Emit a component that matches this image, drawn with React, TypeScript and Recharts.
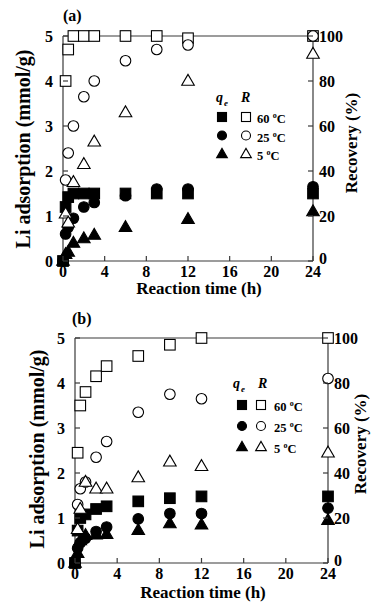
import React from 'react';
import { ScatterChart, Scatter, XAxis, YAxis, Legend } from 'recharts';

const FONT = '"Liberation Serif", "Times New Roman", Times, serif';
const AX = '#3a3a3a';

// ---- shared axes / categories ----
const timeH = [0, 0.25, 0.5, 1, 2, 3, 6, 9, 12, 24];
const xTicks = [0, 4, 8, 12, 16, 20, 24];
const qTicks = [0, 1, 2, 3, 4, 5];
const rTicks = [0, 20, 40, 60, 80, 100];
const tempLabels = ['60', '25', '5'];

// ---- panel (a) : qe (mmol/g) and R (%) ----
const qA60 = [0, 1.2, 1.42, 1.5, 1.5, 1.5, 1.5, 1.5, 1.5, 1.5];
const qA25 = [0, 0.6, 0.75, 0.95, 1.2, 1.3, 1.45, 1.6, 1.6, 1.65];
const qA5 = [0, 0.15, 0.2, 0.4, 0.5, 0.58, 0.75, null, 0.93, 1.1];
const rA60 = [null, 80, 94, 100, 100, 100, 100, 100, 99, 100];
const rA25 = [null, 36, 48, 60, 73, 80, 89, 94, 96, 100];
const rA5 = [null, 21, 17, 35, 43, 53, 66, null, 80, 92];

// ---- panel (b) ----
const qB60 = [0, 0.72, 1.0, 1.08, 1.2, 1.26, 1.37, 1.44, 1.48, 1.48];
const qB25 = [0, 0.33, 0.45, 0.55, 0.7, 0.8, 0.98, 1.1, 1.1, 1.22];
const qB5 = [0, 0.22, 0.5, 0.62, 0.63, 0.64, 0.73, 0.88, 0.85, 0.95];
const rB60 = [null, 49, 70, 76, 83, 87.5, 92, 97, 100, 100];
const rB25 = [null, 26, 33, 36, 47, 54, 67, 75, 73, 82];
const rB5 = [null, 15, 24, 36, 33, 33, 38, 45, 43, 49];

type Pt = { t: number; v: number };
const pts = (vals: (number | null)[]): Pt[] =>
  timeH
    .map((t, i) => ({ t, v: vals[i] as number }))
    .filter((p) => p.v !== null && p.v !== undefined);

type Kind = 'square' | 'circle' | 'triangle';

function Mark({ kind, filled, cx, cy, s = 1 }: { kind: Kind; filled: boolean; cx: number; cy: number; s?: number }) {
  const fill = filled ? '#000' : '#fff';
  const sw = 1.1;
  if (kind === 'square') {
    const h = 5.3 * s;
    return <rect x={cx - h} y={cy - h} width={2 * h} height={2 * h} fill={fill} stroke="#000" strokeWidth={sw} />;
  }
  if (kind === 'circle') {
    return <circle cx={cx} cy={cy} r={5.3 * s} fill={fill} stroke="#000" strokeWidth={sw} />;
  }
  const w = 6.3 * s;
  return (
    <polygon
      points={`${cx},${cy - 6.6 * s} ${cx - w},${cy + 4.3 * s} ${cx + w},${cy + 4.3 * s}`}
      fill={fill}
      stroke="#000"
      strokeWidth={sw}
      strokeLinejoin="miter"
    />
  );
}

const st = (size: number, italic = false): React.CSSProperties => ({
  fontFamily: FONT,
  fontWeight: 700,
  fontSize: size,
  fontStyle: italic ? 'italic' : 'normal',
  fill: '#000',
});

const BottomTick = (p: any) => (
  <g>
    <line x1={p.x} x2={p.x} y1={p.y} y2={p.y - 5} stroke={AX} strokeWidth={1.2} />
    <text x={p.x} y={p.y + 16} textAnchor="middle" style={st(16)}>
      {p.payload.value}
    </text>
  </g>
);
const TopTick = (p: any) => (
  <line x1={p.x} x2={p.x} y1={p.y} y2={p.y + 5} stroke={AX} strokeWidth={1.2} />
);
const LeftTick = (p: any) => (
  <g>
    <line x1={p.x} x2={p.x + 5} y1={p.y} y2={p.y} stroke={AX} strokeWidth={1.2} />
    <text x={p.x - 10} y={p.y} dy="0.36em" textAnchor="end" style={st(16)}>
      {p.payload.value}
    </text>
  </g>
);
const RightTick = (p: any) => (
  <g>
    <line x1={p.x} x2={p.x - 5} y1={p.y} y2={p.y} stroke={AX} strokeWidth={1.2} />
    <text x={p.x + 6} y={p.payload.value === 0 ? p.y - 3 : p.y} dy="0.36em" textAnchor="start" style={st(16)}>
      {p.payload.value}
    </text>
  </g>
);

type Cfg = {
  tag: string;
  top: number;
  height: number;
  leftW: number;
  rightW: number;
  q: (number | null)[][];
  r: (number | null)[][];
  tagPos: [number, number];
  leftTitle: [number, number];
  rightTitle: [number, number];
  xTitle: [number, number];
  lg: { hx: number; rx: number; hy: number; fx: number; ox: number; tx: number; rows: number[] };
};

function VText({ x, y, size, children }: { x: number; y: number; size: number; children: React.ReactNode }) {
  return (
    <text x={x} y={y} transform={`rotate(-90 ${x} ${y})`} textAnchor="middle" dy="0.35em" style={st(size)}>
      {children}
    </text>
  );
}

const kinds: Kind[] = ['square', 'circle', 'triangle'];

function LegendBox({ lg }: { lg: Cfg['lg'] }) {
  return (
    <svg width={371} height={300} style={{ display: 'block' }}>
      <text x={lg.hx} y={lg.hy} style={st(14, true)}>
        q
        <tspan dx={1} dy={4} style={st(9, true)}>e</tspan>
      </text>
      <text x={lg.rx} y={lg.hy} style={st(14, true)}>
        R
      </text>
      {tempLabels.map((lab, i) => (
        <g key={lab}>
          <Mark kind={kinds[i]} filled cx={lg.fx} cy={lg.rows[i]} s={0.85} />
          <Mark kind={kinds[i]} filled={false} cx={lg.ox} cy={lg.rows[i]} s={0.85} />
          <text x={lg.tx} y={lg.rows[i] + 6} style={st(12.5)}>
            {lab + ' '}
            <tspan dy={-5} style={st(8)}>o</tspan>
            <tspan dy={5}>C</tspan>
          </text>
        </g>
      ))}
    </svg>
  );
}

function Panel({ cfg }: { cfg: Cfg }) {
  const axisLine = { stroke: AX, strokeWidth: 1.2 };
  const filledOrder = [1, 2, 0]; // circles, triangles, squares
  const openOrder = [0, 1, 2]; // squares, circles, triangles
  return (
    <div style={{ position: 'absolute', left: 0, top: cfg.top }}>
      <ScatterChart width={371} height={cfg.height} margin={{ top: 35, right: 0, bottom: 0, left: 0 }}>
        <XAxis
          xAxisId="top"
          orientation="top"
          type="number"
          dataKey="t"
          domain={[0, 24]}
          ticks={xTicks}
          interval={0}
          height={1}
          tickSize={0}
          tickMargin={0}
          tickLine={false}
          axisLine={axisLine}
          tick={(p: any) => <TopTick {...p} />}
          label={{
            value: cfg.tag,
            content: () => (
              <text x={cfg.tagPos[0]} y={cfg.tagPos[1]} style={st(16)}>
                {cfg.tag}
              </text>
            ),
          }}
        />
        <XAxis
          xAxisId="bottom"
          orientation="bottom"
          type="number"
          dataKey="t"
          domain={[0, 24]}
          ticks={xTicks}
          interval={0}
          height={cfg.height - 35 - 1 - 225}
          tickSize={0}
          tickMargin={0}
          tickLine={false}
          axisLine={axisLine}
          tick={(p: any) => <BottomTick {...p} />}
          label={{
            value: 'Reaction time (h)',
            content: () => (
              <text x={cfg.xTitle[0]} y={cfg.xTitle[1]} textAnchor="middle" dy="0.35em" style={st(17)}>
                Reaction time (h)
              </text>
            ),
          }}
        />
        <YAxis
          yAxisId="q"
          orientation="left"
          type="number"
          dataKey="v"
          domain={[0, 5]}
          ticks={qTicks}
          interval={0}
          width={cfg.leftW}
          tickSize={0}
          tickMargin={0}
          tickLine={false}
          axisLine={axisLine}
          tick={(p: any) => <LeftTick {...p} />}
          label={{
            value: 'Li adsorption (mmol/g)',
            content: () => (
              <VText x={cfg.leftTitle[0]} y={cfg.leftTitle[1]} size={20}>
                Li adsorption (mmol/g)
              </VText>
            ),
          }}
        />
        <YAxis
          yAxisId="r"
          orientation="right"
          type="number"
          dataKey="v"
          domain={[0, 100]}
          ticks={rTicks}
          interval={0}
          width={cfg.rightW}
          tickSize={0}
          tickMargin={0}
          tickLine={false}
          axisLine={axisLine}
          tick={(p: any) => <RightTick {...p} />}
          label={{
            value: 'Recovery (%)',
            content: () => (
              <VText x={cfg.rightTitle[0]} y={cfg.rightTitle[1]} size={17}>
                Recovery (%)
              </VText>
            ),
          }}
        />
        <Legend
          layout="horizontal"
          verticalAlign="middle"
          align="center"
          wrapperStyle={{ left: 0, top: 0, width: 371, height: 300, margin: 0, pointerEvents: 'none' }}
          content={() => <LegendBox lg={cfg.lg} />}
        />
        {filledOrder.map((i) => (
          <Scatter
            key={'q' + i}
            name={`qe ${tempLabels[i]} °C`}
            data={pts(cfg.q[i])}
            xAxisId="bottom"
            yAxisId="q"
            dataKey="v"
            isAnimationActive={false}
            shape={(p: any) => <Mark kind={kinds[i]} filled cx={p.cx} cy={p.cy} />}
          />
        ))}
        {openOrder.map((i) => (
          <Scatter
            key={'r' + i}
            name={`R ${tempLabels[i]} °C`}
            data={pts(cfg.r[i])}
            xAxisId="bottom"
            yAxisId="r"
            dataKey="v"
            isAnimationActive={false}
            shape={(p: any) => <Mark kind={kinds[i]} filled={false} cx={p.cx} cy={p.cy} />}
          />
        ))}
      </ScatterChart>
    </div>
  );
}

const cfgA: Cfg = {
  tag: '(a)',
  top: 0,
  height: 302,
  leftW: 63,
  rightW: 58,
  q: [qA60, qA25, qA5],
  r: [rA60, rA25, rA5],
  tagPos: [63, 21],
  leftTitle: [23, 149],
  rightTitle: [351, 143],
  xTitle: [199, 288],
  lg: { hx: 216, rx: 241, hy: 102, fx: 222, ox: 246, tx: 257, rows: [117, 135.5, 154] },
};

const cfgB: Cfg = {
  tag: '(b)',
  top: 302,
  height: 303,
  leftW: 75,
  rightW: 43,
  q: [qB60, qB25, qB5],
  r: [rB60, rB25, rB5],
  tagPos: [72, 22],
  leftTitle: [37, 147],
  rightTitle: [360, 142],
  xTitle: [203, 290],
  lg: { hx: 233, rx: 258, hy: 86, fx: 242, ox: 261, tx: 274, rows: [103, 124, 145] },
};

export default function App() {
  return (
    <div style={{ position: 'absolute', left: 0, top: 0, width: 371, height: 605, background: '#fff' }}>
      <Panel cfg={cfgA} />
      <Panel cfg={cfgB} />
    </div>
  );
}
